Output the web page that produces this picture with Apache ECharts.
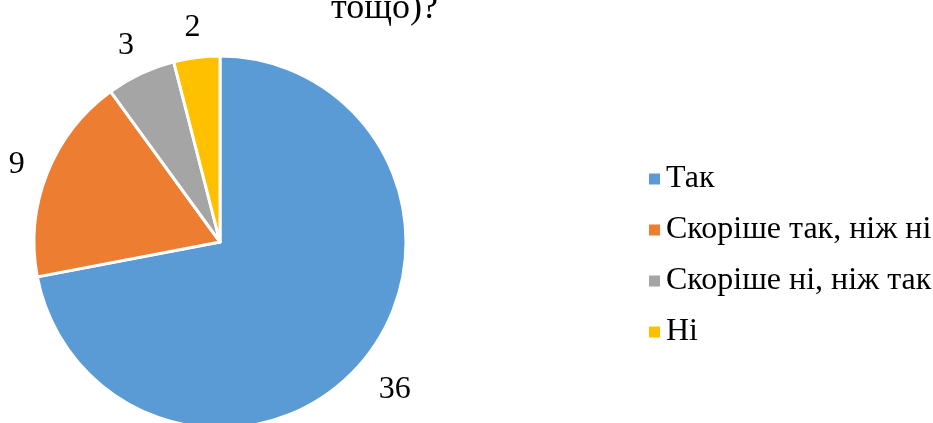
<!DOCTYPE html>
<html>
<head>
<meta charset="utf-8">
<script src="https://cdn.jsdelivr.net/npm/echarts@6/dist/echarts.min.js"></script>
<style>
html,body{margin:0;padding:0;background:#fff;}
#chart{width:933px;height:423px;}
</style>
</head>
<body>
<div id="chart"></div>
<script>
// дані
var categories = ['Так', 'Скоріше так, ніж ні', 'Скоріше ні, ніж так', 'Ні'];
var values = [36, 9, 3, 2];
var colors = ['#5B9BD5', '#ED7D31', '#A5A5A5', '#FFC000'];

var serif = '"Liberation Serif", serif';
var pieCenter = [220, 242];
var pieRadius = 186;
var labelGap = 21;

var chart = echarts.init(document.getElementById('chart'));
var pieData = categories.map(function (name, i) {
    return {name: name, value: values[i], itemStyle: {color: colors[i]}};
});

// підпис ставимо за межею сектора, як у Word (відступ від краю рамки тексту)
function placeLabel(params) {
    var r = params.labelRect;
    var p = params.labelLinePoints;
    var ax, ay;
    if (p && p.length) { ax = p[0][0]; ay = p[0][1]; }
    else { ax = r.x + r.width / 2; ay = r.y + r.height / 2; }
    var dx = ax - pieCenter[0], dy = ay - pieCenter[1];
    var len = Math.sqrt(dx * dx + dy * dy) || 1;
    dx /= len; dy /= len;
    var d = pieRadius + labelGap + Math.abs(dx) * r.width / 2 + Math.abs(dy) * r.height * 0.36;
    return {
        x: pieCenter[0] + dx * d,
        y: pieCenter[1] + dy * d + 3,
        align: 'center',
        verticalAlign: 'middle'
    };
}

var option = {
    animation: false,
    textStyle: {fontFamily: serif},
    title: {
        text: 'тощо)?',
        left: 326,
        top: -14,
        textStyle: {
            fontFamily: serif,
            fontSize: 36,
            fontWeight: 'normal',
            color: '#000'
        }
    },
    legend: {
        orient: 'vertical',
        left: 644,
        top: 158,
        itemWidth: 11,
        itemHeight: 11,
        itemGap: 19,
        itemStyle: {borderWidth: 0},
        icon: 'rect',
        data: categories,
        textStyle: {
            fontFamily: serif,
            fontSize: 32,
            color: '#000',
            padding: [0, 0, 0, 1]
        }
    },
    series: [{
        type: 'pie',
        center: pieCenter,
        radius: pieRadius,
        startAngle: 90,
        clockwise: true,
        avoidLabelOverlap: false,
        data: pieData,
        itemStyle: {borderColor: '#fff', borderWidth: 3},
        label: {
            show: true,
            position: 'outside',
            formatter: '{c}',
            fontFamily: serif,
            fontSize: 32,
            color: '#000'
        },
        labelLine: {show: false, length: 30, length2: 0},
        labelLayout: placeLabel
    }]
};
chart.setOption(option);
</script>
</body>
</html>
